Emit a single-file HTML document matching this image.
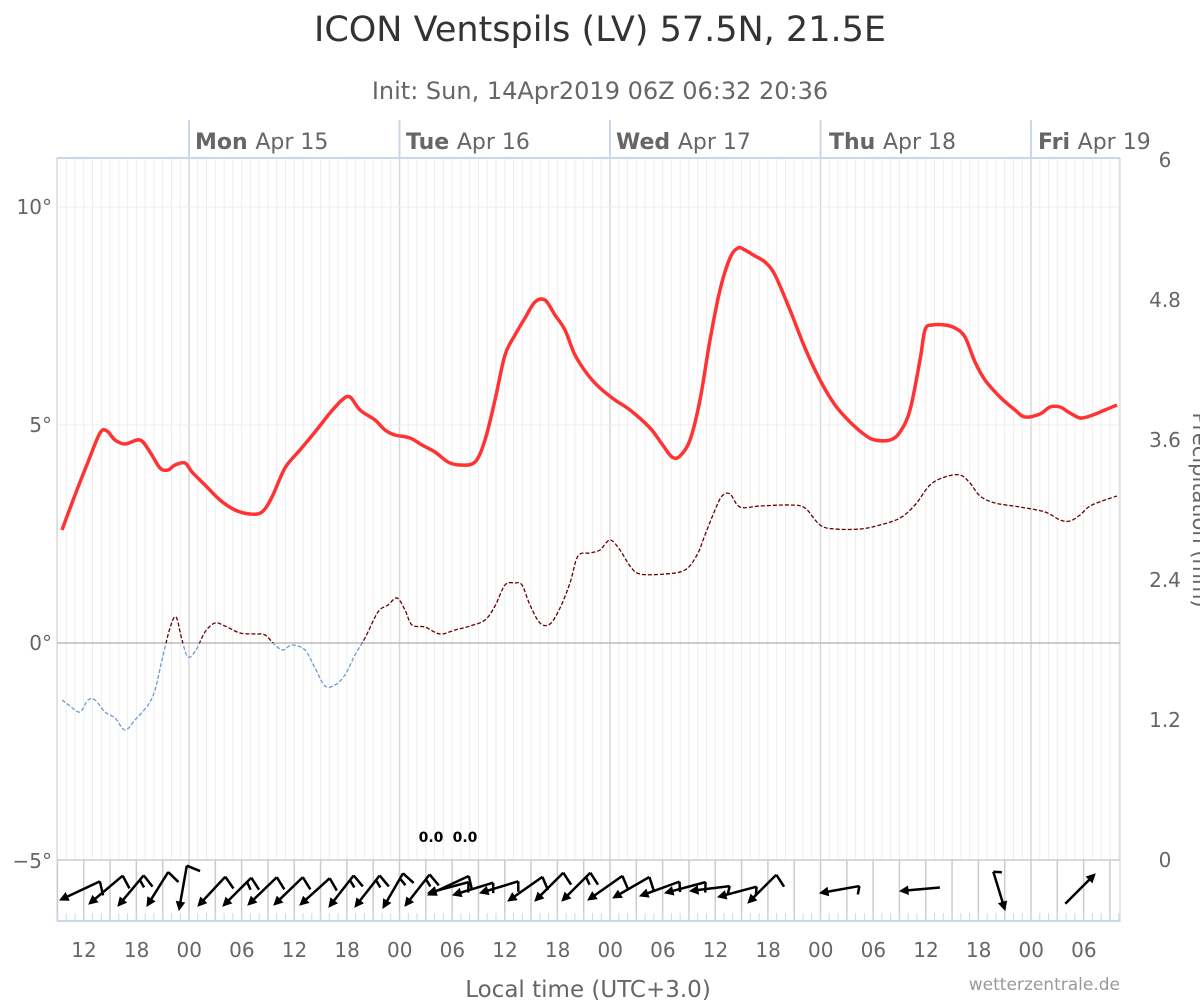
<!DOCTYPE html>
<html><head><meta charset="utf-8"><style>
body{margin:0;background:#fff;width:1200px;height:1000px;overflow:hidden;font-family:"DejaVu Sans","Liberation Sans",sans-serif}
</style></head><body>
<svg id="s" width="1200" height="1000" xmlns="http://www.w3.org/2000/svg" font-family="DejaVu Sans, Liberation Sans, sans-serif">
<text x="600" y="41" text-anchor="middle" font-size="35" fill="#333">ICON Ventspils (LV) 57.5N, 21.5E</text>
<text x="600" y="99" text-anchor="middle" font-size="24" fill="#666">Init: Sun, 14Apr2019 06Z 06:32 20:36</text>
<g id="grid"></g>
<rect x="57" y="158" width="1063" height="763" fill="none" stroke="#ccc"/>
<line x1="57" y1="643" x2="1120" y2="643" stroke="#bbb" stroke-width="1.5"/>
<line x1="57" y1="860" x2="1120" y2="860" stroke="#ccc" stroke-width="1.5"/>
<line x1="57" y1="921" x2="1120" y2="921" stroke="#ccd6eb" stroke-width="2"/>
<line x1="57" y1="158" x2="1120" y2="158" stroke="#ccd6eb" stroke-width="2"/>
<g font-size="20" fill="#666" text-anchor="end">
<text x="52" y="214">10°</text><text x="52" y="432">5°</text><text x="52" y="650">0°</text><text x="52" y="868">−5°</text>
</g>
<g font-size="20" fill="#666" text-anchor="middle">
<text x="1165" y="167">6</text><text x="1165" y="307">4.8</text><text x="1165" y="447">3.6</text><text x="1165" y="587">2.4</text><text x="1165" y="727">1.2</text><text x="1165" y="867">0</text>
</g>
<text transform="translate(1193,510) rotate(90)" text-anchor="middle" font-size="21" fill="#666">Precipitation (mm)</text>
<g font-size="22" fill="#666" id="days"></g>
<g font-size="20" fill="#666" text-anchor="middle" id="hrs"></g>
<text x="588" y="997" text-anchor="middle" font-size="23" fill="#666">Local time (UTC+3.0)</text>
<text x="1120" y="990" text-anchor="end" font-size="17" fill="#999">wetterzentrale.de</text>
<text x="431" y="842" text-anchor="middle" font-size="14" font-weight="bold" fill="#000">0.0</text>
<text x="465" y="842" text-anchor="middle" font-size="14" font-weight="bold" fill="#000">0.0</text>
<g id="curves"></g>
<g id="wind" stroke="#000" stroke-width="2.5" fill="none"></g>
</svg>
<script>
const NS="http://www.w3.org/2000/svg";
function el(p,t,a,txt){const e=document.createElementNS(NS,t);for(const k in a)e.setAttribute(k,a[k]);if(txt)e.textContent=txt;document.getElementById(p).appendChild(e);return e;}
const ph=210.5/24, x0=189-15*ph;
for(let h=0;h<=121;h++){const x=x0+h*ph;if(x<57||x>1120)continue;
 const day=((h+9)%24)==0;
 el('grid','line',{x1:x,y1:158,x2:x,y2:860,stroke:day?'#d8d8d8':'#eee','stroke-width':day?1.5:1});
 if((h+9)%3==0) el('grid','line',{x1:x,y1:860,x2:x,y2:921,stroke:'#ccc','stroke-width':1.5});
 el('grid','line',{x1:x,y1:913,x2:x,y2:921,stroke:'#ccd6eb','stroke-width':1});
 if(day) el('grid','line',{x1:x,y1:120,x2:x,y2:158,stroke:'#ccd6eb','stroke-width':2});
}
[207,425].forEach(y=>el('grid','line',{x1:57,y1:y,x2:1120,y2:y,stroke:'#eee'}));
[['Mon','Apr 15',195],['Tue','Apr 16',406],['Wed','Apr 17',616],['Thu','Apr 18',829],['Fri','Apr 19',1038]].forEach(d=>{
 const t=el('days','text',{x:d[2],y:149});
 const b=document.createElementNS(NS,'tspan');b.setAttribute('font-weight','bold');b.textContent=d[0]+' ';t.appendChild(b);
 const r=document.createElementNS(NS,'tspan');r.textContent=d[1];t.appendChild(r);
});
const lab=['12','18','00','06'];
for(let i=0;i<20;i++){const x=84+i*52.625;if(x>1110)break;el('hrs','text',{x:x,y:957},lab[i%4]);}
function smooth(pts){let d='M'+pts[0];for(let i=1;i<pts.length;i++){const p0=pts[i-2]||pts[i-1],p1=pts[i-1],p2=pts[i],p3=pts[i+1]||p2;
 const c1=[p1[0]+(p2[0]-p0[0])/6,p1[1]+(p2[1]-p0[1])/6],c2=[p2[0]-(p3[0]-p1[0])/6,p2[1]-(p3[1]-p1[1])/6];
 d+=' C'+c1+' '+c2+' '+p2;}return d;}
const red=[[62,530],[75,495],[88,462],[100,433],[107,431],[115,440],[125,444],[140,440],[150,452],[160,468],[168,470],[175,465],[185,463],[192,472],[205,485],[220,500],[235,510],[250,514],[262,512],[272,497],[285,468],[300,450],[315,432],[330,413],[342,400],[350,397],[360,410],[375,420],[385,430],[395,435],[410,438],[422,445],[435,452],[448,462],[460,465],[475,462],[485,440],[495,400],[505,355],[515,335],[525,318],[535,302],[545,300],[555,315],[565,330],[575,355],[588,375],[600,388],[615,400],[630,410],[650,428],[662,444],[672,457],[680,456],[690,440],[700,400],[710,340],[720,290],[730,258],[738,248],[745,250],[755,256],[765,262],[775,275],[790,310],[805,348],[820,380],[835,405],[850,422],[865,435],[875,440],[890,440],[900,432],[910,410],[920,360],[925,330],[932,325],[945,325],[955,328],[965,337],[975,362],[985,380],[1000,397],[1015,410],[1025,417],[1040,414],[1050,407],[1060,407],[1070,413],[1080,418],[1090,416],[1105,410],[1117,405]];
const dew=[[62,700],[70,706],[80,712],[88,700],[95,700],[105,712],[115,718],[125,730],[135,720],[148,705],[155,690],[162,660],[170,628],[176,617],[182,640],[188,657],[196,650],[205,632],[215,623],[225,626],[240,633],[255,634],[265,635],[275,645],[283,650],[292,645],[305,650],[315,668],[325,686],[335,685],[345,675],[355,655],[365,638],[378,612],[388,605],[397,598],[405,610],[412,625],[425,627],[440,634],[455,630],[470,626],[485,620],[495,606],[505,585],[515,583],[522,585],[530,605],[540,623],[550,624],[560,608],[570,583],[578,556],[590,553],[600,550],[610,540],[620,550],[630,566],[640,574],[665,574],[685,570],[697,555],[705,535],[715,510],[722,496],[730,494],[740,507],[760,506],[790,505],[805,508],[820,525],[835,529],[860,529],[880,525],[900,518],[915,505],[930,485],[945,477],[960,475],[970,483],[980,496],[995,503],[1020,507],[1045,512],[1060,520],[1070,521],[1080,515],[1090,506],[1105,500],[1117,496]];
el('curves','defs',{}).innerHTML='<clipPath id="a"><rect x="0" y="0" width="1200" height="643"/></clipPath><clipPath id="b"><rect x="0" y="643" width="1200" height="300"/></clipPath>';
const dd=smooth(dew);
el('curves','path',{d:dd,fill:'none',stroke:'#660000','stroke-width':1.3,'stroke-dasharray':'4,2','clip-path':'url(#a)'});
el('curves','path',{d:dd,fill:'none',stroke:'#6c9bd2','stroke-width':1.3,'stroke-dasharray':'4,2','clip-path':'url(#b)'});
el('curves','path',{d:smooth(red),fill:'none',stroke:'#f33','stroke-width':3.5});
function barb(tx,ty,ang,len,flags){
 const a=ang*Math.PI/180, ux=Math.cos(a),uy=Math.sin(a);
 const sx=tx-ux*len, sy=ty-uy*len;
 let d='M'+sx+','+sy+' L'+(tx-ux*6)+','+(ty-uy*6);
 const px=-uy,py=ux;
 for(let i=0;i<flags.length;i++){const bx=sx+ux*i*6,by=sy+uy*i*6,L=flags[i];
  d+=' M'+bx+','+by+' l'+(-px*L+ux*3)+','+(-py*L+uy*3);}
 el('wind','path',{d:d});
 const h=8;
 el('wind','path',{d:'M'+tx+','+ty+' L'+(tx-ux*h+px*4)+','+(ty-uy*h+py*4)+' L'+(tx-ux*h-px*4)+','+(ty-uy*h-py*4)+'Z',fill:'#000',stroke:'#000','stroke-width':1});
}
const W=[[60,900,155,44,[14]],[89,904,140,44,[14]],[118,906,130,40,[14,8]],[147,906,122,40,[14]],[179,910,100,45,[14]],[198,906,133,40,[14]],[223,906,135,40,[14,8]],[248,905,136,40,[14]],[274,905,136,40,[14]],[300,905,138,40,[14]],[329,907,128,40,[14,8]],[355,907,128,40,[14,8]],[383,908,120,40,[14,8]],[405,906,128,40,[14,8]],[428,895,155,45,[14]],[428,893,165,42,[10]],[453,895,163,42,[10]],[480,893,163,40,[10]],[508,901,145,42,[14]],[535,901,135,40,[14]],[562,901,135,40,[14,8]],[588,900,145,42,[14]],[613,898,150,42,[14]],[640,896,160,42,[10]],[665,893,165,42,[10]],[690,891,173,40,[8]],[718,897,165,40,[8]],[748,903,135,40,[14]],[820,893,170,40,[8]],[900,891,175,40,[0]],[1005,910,73,40,[8]],[1095,874,-45,42,[0]]];
W.forEach(w=>barb(...w));
</script>
</body></html>
